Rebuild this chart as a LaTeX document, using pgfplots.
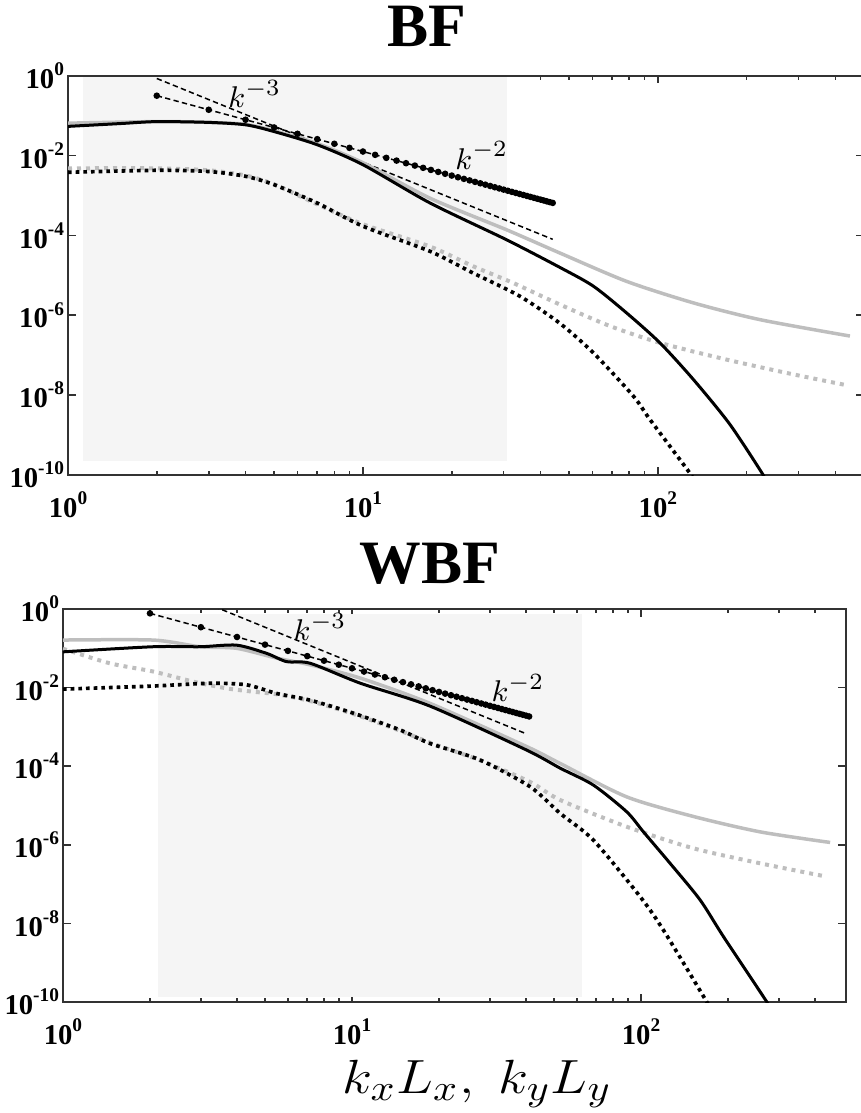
\documentclass[border=0pt]{standalone}
\usepackage{fontspec}
\setmainfont{Liberation Serif}
\usepackage{pgfplots}
\pgfplotsset{compat=1.18}
\usepackage{pgfplotstable}
\usepackage{graphicx}
\definecolor{lgray}{RGB}{190,190,190}
\definecolor{shade}{RGB}{245,245,245}
\definecolor{axcol}{RGB}{50,50,50}
\newcommand\tl[1]{10\raisebox{0.45em}{\fontsize{5.8}{7}\selectfont #1}}

% ---------- BF (top) ----------
\pgfplotstableread{
x ly
1 -1.27
1.5 -1.20
2 -1.15
3 -1.17
4 -1.23
5 -1.40
7 -1.73
10 -2.23
16.9 -3.19
30.7 -4.11
46.5 -4.80
60.4 -5.27
78.3 -5.94
101.6 -6.69
132 -7.61
175 -8.72
225 -9.94
232 -10.15
}\tbs
\pgfplotstableread{
x ly
1 -1.19
2 -1.15
3 -1.17
4 -1.22
5 -1.38
7 -1.70
10 -2.18
16.9 -3.07
30.7 -3.86
46.5 -4.44
78.3 -5.15
132 -5.69
222 -6.11
448 -6.52
}\tgs
\pgfplotstableread{
x ly
1 -2.32
2 -2.32
3 -2.37
4 -2.50
5 -2.72
7 -3.22
10 -3.72
16.9 -4.28
23.6 -4.77
32.3 -5.19
46.5 -5.73
68.8 -6.27
101.6 -6.69
171 -7.11
288 -7.48
436 -7.75
}\tgd
\pgfplotstableread{
x ly
1 -2.42
2 -2.37
3 -2.40
4 -2.52
5 -2.73
7 -3.19
10 -3.77
16.9 -4.40
23.6 -4.94
34 -5.52
46.5 -6.20
60.4 -6.94
82.5 -8.02
94 -8.61
128 -9.94
131 -10.10
}\tbd
\pgfplotstableread{
x y
2 0.315
3 0.14
4 0.0788
5 0.0504
6 0.035
7 0.0257
8 0.0197
9 0.01556
10 0.0126
11 0.01041
12 0.00875
13 0.00746
14 0.00643
15 0.0056
16 0.00492
17 0.00436
18 0.00389
19 0.00349
20 0.00315
21 0.002857
22 0.002603
23 0.002382
24 0.002188
25 0.002016
26 0.001864
27 0.001728
28 0.001607
29 0.001498
30 0.0014
31 0.001311
32 0.00123
33 0.001157
34 0.00109
35 0.001029
36 0.000972
37 0.00092
38 0.000873
39 0.000828
40 0.000788
41 0.00075
42 0.000714
43 0.000681
44 0.000651
}\tkb

% ---------- WBF (bottom) ----------
\pgfplotstableread{
x ly
1 -1.09
2.05 -0.96
2.98 -0.96
3.99 -0.92
5.07 -1.13
5.94 -1.34
7.16 -1.38
10.7 -1.89
18.6 -2.47
40.2 -3.59
52.5 -4.05
68.4 -4.48
89.2 -5.16
101.9 -5.67
126 -6.47
160 -7.40
193 -8.34
272 -9.99
276 -10.10
}\bbs
\pgfplotstableread{
x ly
1 -0.79
2.05 -0.79
2.98 -0.96
3.99 -1.00
5.49 -1.25
7.16 -1.42
10.7 -1.76
18.6 -2.40
40.2 -3.50
52.5 -3.93
89.2 -4.78
152 -5.28
258 -5.67
451 -5.94
}\bgs
\pgfplotstableread{
x ly
1 -1.01
1.45 -1.38
2.05 -1.59
2.83 -1.85
3.69 -2.02
4.5 -2.10
5.49 -2.17
7.16 -2.34
10.1 -2.67
14.7 -3.10
18.6 -3.40
27.7 -3.85
41.3 -4.40
52.5 -4.86
89.2 -5.54
152 -6.09
258 -6.47
439 -6.81
}\bgd
\pgfplotstableread{
x ly
1 -2.04
2.05 -1.96
3.23 -1.89
4.32 -1.93
5.49 -2.15
7.16 -2.32
10.1 -2.65
14.7 -3.08
18.6 -3.42
27.7 -3.84
41.3 -4.52
52.5 -5.20
68.4 -5.88
99.3 -7.32
119.5 -8.17
168.6 -9.99
171 -10.10
}\bbd
\pgfplotstableread{
x y
2 0.775
3 0.344
4 0.194
5 0.124
6 0.0861
7 0.0633
8 0.0484
9 0.0383
10 0.031
11 0.02562
12 0.02153
13 0.01834
14 0.01582
15 0.01378
16 0.01211
17 0.01073
18 0.00957
19 0.00859
20 0.00775
21 0.00703
22 0.0064
23 0.00586
24 0.00538
25 0.00496
26 0.00459
27 0.00425
28 0.00395
29 0.00369
30 0.00344
31 0.003226
32 0.003027
33 0.002847
34 0.002682
35 0.002531
36 0.002392
37 0.002264
38 0.002147
39 0.002038
40 0.001938
41 0.001844
}\bkb

\pgfplotsset{myspec/.style={
  scale only axis,
  ymin=1e-10, ymax=1, xmin=1,
  axis line style={line width=0.6pt, draw=axcol},
  every tick/.append style={draw=axcol, line width=0.5pt},
  major tick length=2.3pt, minor tick length=1.3pt,
  tick align=inside,
  xtick={1,10,100}, xticklabels={\tl{0},\tl{1},\tl{2}},
  minor xtick={2,3,4,5,6,7,8,9,20,30,40,50,60,70,80,90,200,300,400},
  ytick={1e-10,1e-8,1e-6,1e-4,1e-2,1},
  yticklabels={\tl{-10},\tl{-8},\tl{-6},\tl{-4},\tl{-2},\tl{0}},
  minor ytick={},
  tick label style={font=\fontsize{8.6}{10}\selectfont\bfseries},
  yticklabel style={inner xsep=1pt},
  xticklabel style={yshift=-1.6pt},
  clip=true,
},
bsolid/.style={black, line width=0.9pt, smooth, tension=0.45},
gsolid/.style={lgray, line width=1.05pt, smooth, tension=0.45},
bdot/.style={black, line width=1.1pt, dash pattern=on 1.1pt off 1.2pt, smooth, tension=0.45},
gdot/.style={lgray, line width=1.2pt, dash pattern=on 1.2pt off 1.5pt, smooth, tension=0.45},
kdash/.style={black, line width=0.45pt, dash pattern=on 1.6pt off 1pt},
kdot/.style={black, line width=0.45pt, dash pattern=on 1.6pt off 1pt, mark=*, mark size=0.75pt, mark options={solid}},
}

\begin{document}
\begin{tikzpicture}
% top panel
\begin{loglogaxis}[myspec, at={(20.4pt,-142.5pt)}, anchor=south west,
  width=238.8pt, height=119.8pt, xmax=500]
\addplot[draw=none, fill=shade] coordinates {(1.124,2.2e-10) (30.8,2.2e-10) (30.8,0.93) (1.124,0.93)} -- cycle;
\addplot[kdash] coordinates {(2,0.85) (44,7.98e-5)};
\addplot[kdot] table[x=x,y=y] {\tkb};
\addplot[gdot] table[x=x, y expr=10^(\thisrow{ly})] {\tgd};
\addplot[bdot] table[x=x, y expr=10^(\thisrow{ly})] {\tbd};
\addplot[gsolid] table[x=x, y expr=10^(\thisrow{ly})] {\tgs};
\addplot[bsolid] table[x=x, y expr=10^(\thisrow{ly})] {\tbs};
\node[font=\fontsize{9.5}{11}\selectfont] at (axis cs:4.3,0.35) {$k^{-3}$};
\node[font=\fontsize{9.5}{11}\selectfont] at (axis cs:25.3,0.01) {$k^{-2}$};
\end{loglogaxis}
% bottom panel
\begin{loglogaxis}[myspec, at={(18.9pt,-300.6pt)}, anchor=south west,
  width=234.8pt, height=117.9pt, xmax=510.6]
\addplot[draw=none, fill=shade] coordinates {(2.13,1.35e-10) (62.4,1.35e-10) (62.4,0.74) (2.13,0.74)} -- cycle;
\addplot[kdash] coordinates {(2,5.375) (40,6.72e-4)};
\addplot[kdot] table[x=x,y=y] {\bkb};
\addplot[gdot] table[x=x, y expr=10^(\thisrow{ly})] {\bgd};
\addplot[bdot] table[x=x, y expr=10^(\thisrow{ly})] {\bbd};
\addplot[gsolid] table[x=x, y expr=10^(\thisrow{ly})] {\bgs};
\addplot[bsolid] table[x=x, y expr=10^(\thisrow{ly})] {\bbs};
\node[font=\fontsize{9.5}{11}\selectfont] at (axis cs:7.75,0.35) {$k^{-3}$};
\node[font=\fontsize{9.5}{11}\selectfont] at (axis cs:37.5,0.0098) {$k^{-2}$};
\end{loglogaxis}
% titles and x label
\node[anchor=base, font=\fontsize{18.5}{22}\selectfont\bfseries] at (128.1pt,-14.1pt) {BF};
\node[anchor=base, font=\fontsize{18.5}{22}\selectfont\bfseries] at (129pt,-174.9pt) {WBF};
\node[anchor=base, font=\fontsize{15}{18}\selectfont, inner sep=0pt] at (143.1pt,-327.9pt) {\scalebox{1.15}[1]{$k_xL_x,\;k_yL_y$}};
\pgfresetboundingbox
\path (0,0) rectangle (258pt,-333.9pt);
\end{tikzpicture}
\end{document}
